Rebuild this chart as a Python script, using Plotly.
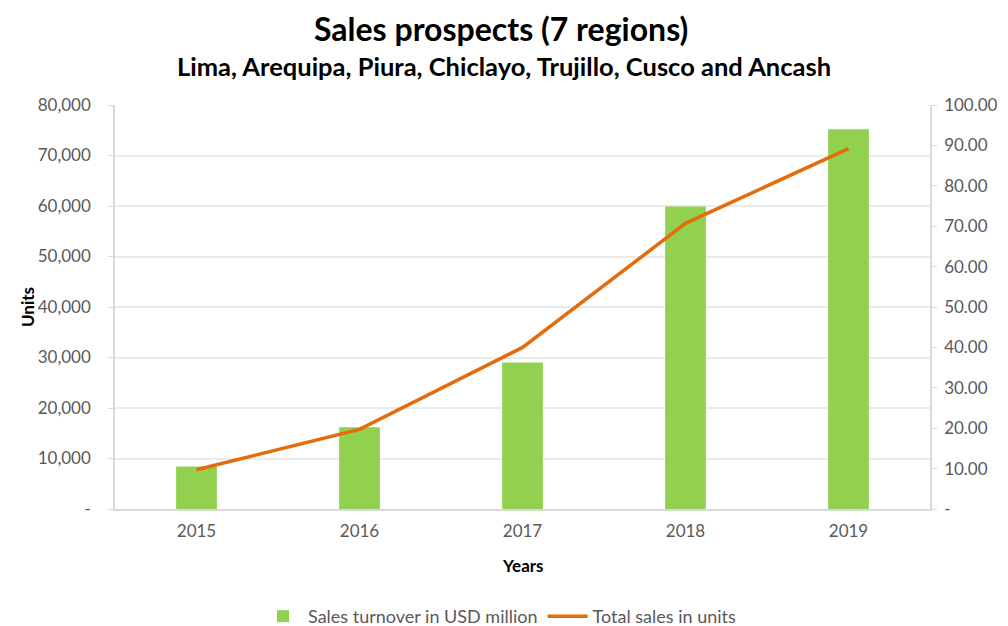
import plotly.graph_objects as go

years = ["2015", "2016", "2017", "2018", "2019"]
turnover = [8400, 16200, 29000, 59900, 75200]
units = [9.7, 19.7, 40.0, 70.7, 89.2]

left_ticks = [0, 10000, 20000, 30000, 40000, 50000, 60000, 70000, 80000]
left_labels = ["-"] + [f"{v:,}" for v in left_ticks[1:]]
right_ticks = [0, 10, 20, 30, 40, 50, 60, 70, 80, 90, 100]
right_labels = ["-"] + [f"{v:.2f}" for v in right_ticks[1:]]

FONT = "Lato"
GRAY = "#595959"
TICK = 17

fig = go.Figure()
fig.add_trace(go.Bar(
    x=years, y=turnover, name="Sales turnover in USD million",
    marker=dict(color="#92D050", line=dict(width=0)), width=0.25,
))
fig.add_trace(go.Scatter(
    x=years, y=units, name="Total sales in units", yaxis="y2",
    mode="lines", line=dict(color="#E46C0A", width=3.5),
))

fig.update_layout(
    width=1000, height=618,
    margin=dict(l=107, r=78, t=97, b=117, autoexpand=False),
    paper_bgcolor="white", plot_bgcolor="white",
    font=dict(family=FONT, color=GRAY, size=TICK),
    showlegend=True,
    legend=dict(orientation="h", xref="container", x=0.492, xanchor="center",
                y=-0.266, yanchor="middle",
                font=dict(size=18, color=GRAY), itemwidth=40, tracegroupgap=0),
    xaxis=dict(showline=True, linecolor="#d9d9d9", linewidth=1.5, ticks="",
               tickfont=dict(size=TICK, color=GRAY), showgrid=False,
               ticklabelstandoff=6),
    yaxis=dict(range=[0, 80000], tickvals=left_ticks, ticktext=left_labels,
               showline=True, linecolor="#d9d9d9", linewidth=1.5,
               ticks="outside", ticklen=5, tickcolor="#d9d9d9",
               gridcolor="#ebebeb", gridwidth=1.5, zeroline=False,
               tickfont=dict(size=TICK, color=GRAY), ticklabelstandoff=14),
    yaxis2=dict(range=[0, 100], tickvals=right_ticks, ticktext=right_labels,
                overlaying="y", side="right", showgrid=False, zeroline=False,
                showline=True, linecolor="#d9d9d9", linewidth=1.5,
                ticks="outside", ticklen=5, tickcolor="#d9d9d9",
                tickfont=dict(size=TICK, color=GRAY), ticklabelstandoff=4),
    bargap=0.75,
)

fig.add_annotation(text="<b>Sales prospects (7 regions)</b>", xref="paper", yref="paper",
                   x=0.474, y=1, yshift=77, xanchor="center", yanchor="middle",
                   showarrow=False, font=dict(size=32, color="#000000", family=FONT))
fig.add_annotation(text="<b>Lima, Arequipa, Piura, Chiclayo, Trujillo, Cusco and Ancash</b>",
                   xref="paper", yref="paper", x=0.477, y=1, yshift=39,
                   xanchor="center", yanchor="middle", showarrow=False,
                   font=dict(size=25.5, color="#000000", family=FONT))
fig.add_annotation(text="<b>Units</b>", xref="paper", yref="paper", x=0, xshift=-88,
                   y=0.5, textangle=-90, xanchor="center", yanchor="middle",
                   showarrow=False, font=dict(size=17, color="#000000", family=FONT))
fig.add_annotation(text="<b>Years</b>", xref="paper", yref="paper", x=0.5, y=0,
                   yshift=-56, xanchor="center", yanchor="middle", showarrow=False,
                   font=dict(size=17, color="#000000", family=FONT))

fig.write_html("out.html")
